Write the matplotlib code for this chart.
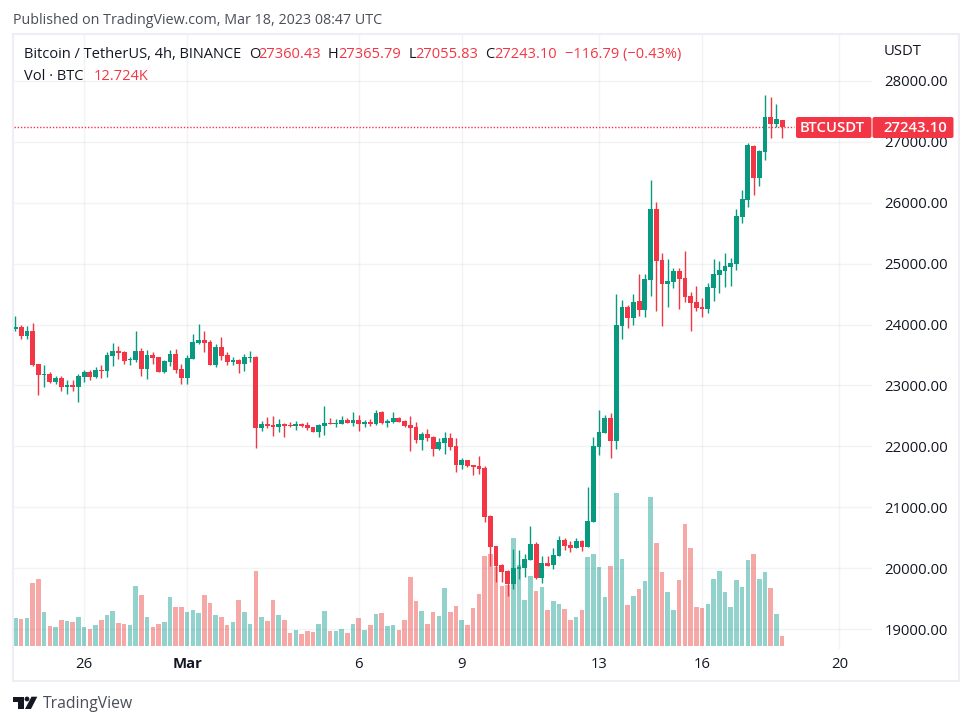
"""
Bitcoin / TetherUS 4h candles with volume, TradingView snapshot style.
Values read off the published chart (one candle every 4 hours from Feb 24).
"""

import matplotlib
matplotlib.use("Agg")
import matplotlib.pyplot as plt
from matplotlib.patches import Circle, FancyBboxPatch, Polygon, Rectangle

opens = [
    23924, 23956, 23809, 23891, 23350, 23170, 23186, 23055, 23120, 22973,
    23006, 22973, 23137, 23219, 23137, 23252, 23235, 23481, 23563, 23547,
    23415, 23415, 23563, 23268, 23497, 23465, 23219, 23383, 23514, 23268,
    23120, 23432, 23694, 23743, 23711, 23334, 23629, 23497, 23383, 23415,
    23350, 23448, 23465, 22306, 22366, 22349, 22316, 22366, 22344, 22338,
    22366, 22349, 22316, 22235, 22333, 22382, 22371, 22366, 22431, 22382,
    22431, 22366, 22398, 22366, 22562, 22382, 22398, 22464, 22415, 22349,
    22316, 22103, 22202, 22153, 21956, 22054, 22136, 22005, 21694, 21776,
    21694, 21677, 21645, 20859, 20367, 20055, 19957, 19744, 19990, 20006,
    20137, 20400, 19842, 20088, 20055, 20203, 20465, 20383, 20334, 20449,
    20350, 20760, 21990, 22219, 22465, 22088, 23973, 24284, 24104, 24383,
    24235, 24727, 25891, 25055, 24661, 24694, 24874, 24760, 24465, 24366,
    24284, 24252, 24596, 24809, 24874, 24940, 24989, 25760, 26046, 26933,
    26407, 26839, 27409, 27294, 27360.43,
]
highs = [
    24137, 23989, 23973, 24022, 23350, 23334, 23219, 23153, 23153, 23088,
    23088, 23186, 23252, 23252, 23301, 23334, 23547, 23694, 23645, 23563,
    23465, 23891, 23612, 23579, 23547, 23465, 23415, 23579, 23596, 23350,
    23497, 23842, 24006, 23891, 23743, 23678, 23793, 23547, 23465, 23432,
    23514, 23563, 23481, 22415, 22480, 22497, 22448, 22382, 22398, 22415,
    22382, 22398, 22316, 22366, 22661, 22464, 22448, 22497, 22464, 22562,
    22513, 22431, 22448, 22595, 22579, 22448, 22562, 22480, 22431, 22497,
    22398, 22235, 22284, 22169, 22136, 22235, 22218, 22136, 21808, 21776,
    21694, 21841, 21678, 20875, 20367, 20072, 19973, 20318, 20301, 20236,
    20695, 20432, 20203, 20203, 20334, 20531, 20498, 20449, 20498, 20465,
    21334, 22153, 22596, 22514, 22547, 24497, 24399, 24317, 24497, 24825,
    24825, 26382, 26005, 25169, 25071, 24924, 24924, 25202, 24530, 24629,
    24432, 24678, 25071, 25038, 25169, 25087, 25891, 26202, 26987, 26949,
    26867, 27770, 27737, 27622, 27365.79,
]
lows = [
    23891, 23760, 23760, 23317, 22842, 22973, 23038, 23022, 22907, 22858,
    22907, 22727, 23055, 23088, 23120, 23120, 23137, 23317, 23432, 23350,
    23334, 23383, 23153, 23104, 23350, 23219, 23202, 23317, 23202, 23022,
    23022, 23432, 23678, 23547, 23334, 23301, 23415, 23334, 23334, 23202,
    23235, 23383, 21978, 22251, 22300, 22169, 22235, 22153, 22316, 22267,
    22316, 22267, 22235, 22153, 22185, 22366, 22316, 22366, 22382, 22333,
    22251, 22316, 22333, 22349, 22366, 22316, 22382, 22398, 22316, 21923,
    22054, 21939, 22087, 21841, 21939, 21874, 21939, 21579, 21628, 21661,
    21530, 21546, 20760, 20039, 19777, 19777, 19547, 19662, 19826, 19859,
    20137, 19826, 19760, 20039, 19990, 20203, 20301, 20268, 20334, 20285,
    20350, 20760, 21858, 22219, 21809, 21957, 23760, 23940, 23989, 24137,
    24120, 24465, 24219, 23973, 24284, 24596, 24252, 24366, 23891, 24219,
    24120, 24186, 24383, 24514, 24612, 24629, 24891, 25661, 25931, 26128,
    26276, 26703, 27064, 27245, 27055.83,
]
closes = [
    23956, 23809, 23891, 23334, 23170, 23186, 23055, 23120, 22973, 23006,
    22973, 23153, 23219, 23137, 23252, 23235, 23497, 23563, 23530, 23399,
    23432, 23563, 23268, 23497, 23448, 23219, 23399, 23514, 23252, 23120,
    23448, 23711, 23743, 23694, 23334, 23629, 23481, 23383, 23415, 23350,
    23465, 23465, 22306, 22366, 22338, 22322, 22366, 22338, 22333, 22366,
    22338, 22300, 22235, 22349, 22382, 22366, 22382, 22431, 22382, 22431,
    22366, 22398, 22366, 22546, 22382, 22409, 22464, 22398, 22333, 22300,
    22103, 22202, 22136, 21956, 22071, 22136, 21989, 21694, 21776, 21677,
    21661, 21628, 20842, 20350, 20039, 19941, 19744, 20006, 20023, 20154,
    20400, 19842, 20088, 20039, 20219, 20465, 20367, 20334, 20449, 20350,
    20777, 22006, 22235, 22465, 22088, 23989, 24284, 24104, 24366, 24235,
    24743, 25891, 25038, 24661, 24711, 24874, 24743, 24448, 24350, 24268,
    24252, 24612, 24825, 24891, 24956, 25006, 25776, 26055, 26949, 26407,
    26855, 27409, 27294, 27376, 27243.10,
]
# volume in thousands of BTC
volumes = [
    35.6, 34.4, 35.6, 80.2, 85.2, 43.3, 25.4, 24.2, 33.1, 31.8,
    30.5, 36.9, 24.2, 21.6, 26.7, 33.1, 39.4, 44.5, 29.3, 28.0,
    26.7, 76.3, 64.9, 36.9, 24.2, 28.0, 30.5, 62.3, 49.6, 49.6,
    43.3, 45.8, 42.0, 64.9, 54.7, 39.4, 36.9, 26.7, 30.5, 58.5,
    43.3, 28.0, 95.4, 36.9, 31.8, 58.5, 39.4, 33.1, 16.5, 20.4,
    15.3, 19.1, 17.8, 28.0, 44.5, 19.1, 19.1, 21.6, 16.5, 28.0,
    35.6, 20.4, 26.7, 40.7, 42.0, 25.4, 26.7, 20.4, 33.1, 87.8,
    57.3, 44.5, 28.0, 43.3, 38.2, 73.8, 43.3, 50.9, 33.1, 26.7,
    48.3, 66.2, 114.5, 117.1, 100.5, 76.3, 77.6, 137.4, 103.1, 58.5,
    89.1, 70.0, 75.1, 45.8, 57.3, 53.4, 47.1, 33.1, 36.9, 45.8,
    113.2, 117.1, 100.5, 62.3, 101.8, 194.7, 110.7, 52.2, 63.6, 72.5,
    82.7, 189.6, 131.0, 94.2, 68.7, 45.8, 84.0, 155.2, 124.7, 49.6,
    48.3, 53.4, 85.2, 95.4, 68.7, 49.6, 84.0, 75.1, 109.4, 117.1,
    85.2, 94.2, 73.8, 40.7, 12.724,
]

date_ticks = [12, 30, 60, 78, 102, 120, 144]
date_labels = ["26", "Mar", "6", "9", "13", "16", "20"]
price_ticks = [19000, 20000, 21000, 22000, 23000, 24000, 25000, 26000, 27000, 28000]

last_price = 27243.10

UP = "#089981"
DOWN = "#f23645"
VOL_UP = "#26a69a"
VOL_DOWN = "#ef5350"
INK = "#131722"
FONT = "Open Sans"
NUM_SIZE = 10.7
TEXT_SIZE = 10.5

plt.rcParams["font.family"] = FONT

W, H = 972, 725
PANE_L, PANE_R, PANE_T, PANE_B = 14, 872, 35, 649

fig = plt.figure(figsize=(W / 100, H / 100), dpi=100, facecolor="white")
rect = [PANE_L / W, 1 - PANE_B / H, (PANE_R - PANE_L) / W, (PANE_B - PANE_T) / H]

# volume sits behind the candles on its own scale
ax_vol = fig.add_axes(rect, zorder=1, facecolor="white")
ax = fig.add_axes(rect, zorder=2, facecolor="none")

xs = list(range(len(opens)))
is_up = [c >= o for o, c in zip(opens, closes)]

ax_vol.bar(
    xs, volumes, width=0.8, alpha=0.5, linewidth=0,
    color=[VOL_UP if u else VOL_DOWN for u in is_up],
)
ax_vol.set_xlim(-0.26, 149.7)
ax_vol.set_ylim(-3.8, 777.4)
ax_vol.axis("off")

candle_colors = [UP if u else DOWN for u in is_up]
ax.vlines(xs, lows, highs, colors=candle_colors, linewidth=1.0, zorder=3)
ax.bar(
    xs,
    [abs(c - o) for o, c in zip(opens, closes)],
    bottom=[min(o, c) for o, c in zip(opens, closes)],
    width=0.84, color=candle_colors, linewidth=0, zorder=4,
)
ax.plot(
    [-0.26, 136], [last_price, last_price], color=DOWN,
    linewidth=1.0, linestyle=(0, (1, 1.3)), zorder=2,
)

ax.set_xlim(-0.26, 149.7)
ax.set_ylim(18673, 28755)
ax.set_xticks(date_ticks, date_labels)
ax.set_yticks(price_ticks, [f"{p:.2f}" for p in price_ticks])
ax.yaxis.tick_right()
ax.tick_params(axis="y", length=0, pad=9.0, labelsize=NUM_SIZE, labelcolor=INK)
ax.tick_params(axis="x", length=0, pad=5.5, labelsize=NUM_SIZE, labelcolor=INK)
ax.get_xticklabels()[1].set_fontweight("bold")
ax.grid(True, color="#1e2a5a", alpha=0.055, linewidth=1.0)
ax.set_axisbelow(True)
for spine in ax.spines.values():
    spine.set_visible(False)

# overlay in pixel coordinates for header, frame, price tag and logo
ov = fig.add_axes([0, 0, 1, 1], zorder=5, facecolor="none")
ov.set_xlim(0, W)
ov.set_ylim(H, 0)
ov.axis("off")

ov.add_patch(Rectangle((13, 34), 946, 647, fill=False, edgecolor="#eeeff5", linewidth=1.5))

ov.text(13, 20.5, "Published on TradingView.com, Mar 18, 2023 08:47 UTC",
        fontsize=10.3, color="#4a4e59", va="center")
ov.text(884, 51.5, "USDT", fontsize=NUM_SIZE, color=INK, va="center")

header = [
    (24, "Bitcoin / TetherUS, 4h, BINANCE", INK),
    (249, "O", INK), (258.5, "27360.43", DOWN),
    (328, "H", INK), (338, "27365.79", DOWN),
    (409, "L", INK), (415.5, "27055.83", DOWN),
    (485, "C", INK), (494.5, "27243.10", DOWN),
    (565, "\u2212116.79 (\u22120.43%)", DOWN),
]
for x, label, color in header:
    ov.text(x, 54.5, label, fontsize=TEXT_SIZE, color=color, va="center")
ov.text(24, 76, "Vol \u00b7 BTC", fontsize=TEXT_SIZE, color=INK, va="center")
ov.text(94, 76, "12.724K", fontsize=TEXT_SIZE, color=DOWN, va="center")

# price tag on the right
ov.add_patch(FancyBboxPatch((796, 117), 75.5, 21, boxstyle="round,pad=0,rounding_size=2",
                            facecolor=DOWN, edgecolor="none"))
ov.add_patch(FancyBboxPatch((872.5, 117), 81, 21, boxstyle="round,pad=0,rounding_size=2",
                            facecolor=DOWN, edgecolor="none"))
ov.text(832.5, 128, "BTCUSDT", fontsize=NUM_SIZE, fontweight="semibold", color="white",
        ha="center", va="center")
ov.text(947, 128, f"{last_price:.2f}", fontsize=NUM_SIZE, fontweight="semibold", color="white",
        ha="right", va="center")

# TradingView logo
ov.add_patch(Polygon([(12.7, 696.7), (23.5, 696.7), (23.5, 709), (18, 709), (18, 701.5), (12.7, 701.5)],
                     facecolor=INK, edgecolor="none"))
ov.add_patch(Circle((27, 699), 2.4, facecolor=INK, edgecolor="none"))
ov.add_patch(Polygon([(31.5, 696.7), (37.3, 696.7), (31, 709), (25, 709)],
                     facecolor=INK, edgecolor="none"))
ov.text(43, 704, "TradingView", fontsize=11.3, color="#4a4e59", va="center")

fig.savefig("out.png", dpi=100)
